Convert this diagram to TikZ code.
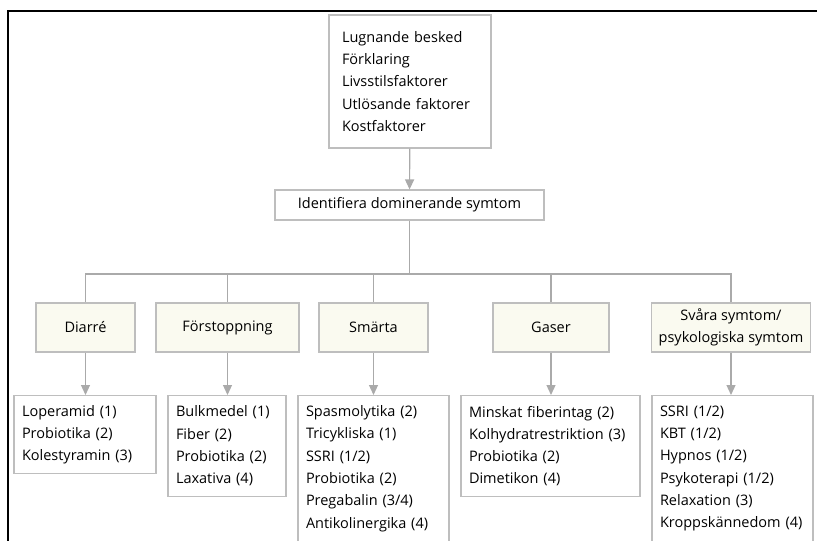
\documentclass[tikz,border=0pt]{standalone}
\usepackage{fontspec}
\setmainfont{Open Sans}
\usetikzlibrary{arrows.meta}
\definecolor{boxline}{RGB}{190,190,190}
\definecolor{linkgray}{RGB}{170,170,170}
\definecolor{catfill}{RGB}{250,250,240}

\begin{document}
\begin{tikzpicture}[x=1pt,y=-1pt,
    txt/.style={font=\fontsize{14.5}{22.3}\selectfont},
    box/.style={txt,draw=boxline,line width=1.1pt,inner sep=0pt,align=left},
    listbox/.style={box,anchor=north,inner xsep=8pt},
    catbox/.style={box,fill=catfill,align=center,minimum height=49pt},
    link/.style={draw=linkgray,line width=1.2pt},
    arr/.style={link,-{Triangle[length=10pt,width=9pt,fill=linkgray]}}]
      \useasboundingbox (0,0) rectangle (817,541);

      \node [box,inner xsep=13pt,text width=136pt,minimum height=133pt] (top) at (410,81.5)
        {Lugnande besked\\Förklaring\\Livsstilsfaktorer\\Utlösande faktorer\\Kostfaktorer};
      \node [box,align=center,minimum width=269pt,minimum height=30pt] (ident) at (409.5,205)
        {Identifiera dominerande symtom};

      \node [catbox,minimum width=99pt] (dia) at (85.5,327.5) {Diarré};
      \node [catbox,minimum width=143pt] (for) at (227.5,327.5) {Förstoppning};
      \node [catbox,minimum width=109pt] (sma) at (373.5,327.5) {Smärta};
      \node [catbox,minimum width=116pt] (gas) at (551,327.5) {Gaser};
      \node [catbox,minimum width=159pt] (sva) at (731,327.5) {Svåra symtom/\\psykologiska symtom};

      \node [listbox,text width=126pt,minimum height=78pt] (dialist) at (85,395)
        {Loperamid (1)\\Probiotika (2)\\Kolestyramin (3)};
      \node [listbox,text width=102pt,minimum height=101pt] (forlist) at (227,395)
        {Bulkmedel (1)\\Fiber (2)\\Probiotika (2)\\Laxativa (4)};
      \node [listbox,text width=135pt,minimum height=146pt] (smalist) at (373.5,395)
        {Spasmolytika (2)\\Tricykliska (1)\\SSRI (1/2)\\Probiotika (2)\\Pregabalin (3/4)\\Antikolinergika (4)};
      \node [listbox,text width=163pt,minimum height=101pt] (gaslist) at (550.5,395)
        {Minskat fiberintag (2)\\Kolhydratrestriktion (3)\\Probiotika (2)\\Dimetikon (4)};
      \node [listbox,text width=145pt,minimum height=146pt] (svalist) at (732.5,395)
        {SSRI (1/2)\\KBT (1/2)\\Hypnos (1/2)\\Psykoterapi (1/2)\\Relaxation (3)\\Kroppskännedom (4)};

      \coordinate (split) at (409.5,274);
      \draw [arr] (top) -- (ident);
      \draw [link] (ident) -- (split);
      \foreach \c in {dia,for,sma,gas,sva}
      {
        \draw [link] (\c.north) |- (split);
        \draw [arr] (\c.south) -- (\c.south |- \c list.north);
      }

      \draw [line width=2pt] (8,541) -- (8,11) -- (817,11);
    \end{tikzpicture}
\end{document}
